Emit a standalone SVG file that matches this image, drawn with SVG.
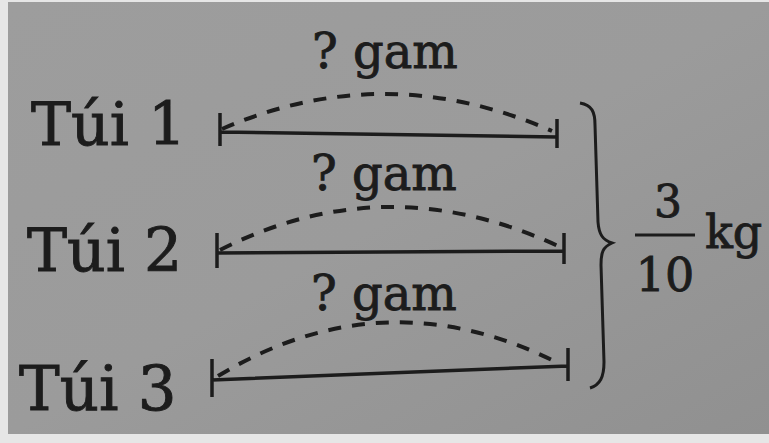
<svg xmlns="http://www.w3.org/2000/svg" width="769" height="443" viewBox="0 0 769 443">
<defs>
<linearGradient id="bg" x1="0" y1="0" x2="1" y2="1">
<stop offset="0" stop-color="#9d9d9d"/>
<stop offset="0.5" stop-color="#9b9b9b"/>
<stop offset="1" stop-color="#909090"/>
</linearGradient>
<style>
.lbl{font-family:"DejaVu Serif","Liberation Serif",serif;fill:#1c1c1c;stroke:#1c1c1c;stroke-width:0.9}
.bag{font-size:60px}
.q{font-size:48px}
.seg{stroke:#1c1c1c;stroke-width:3.5;fill:none}
.dash{stroke:#1c1c1c;stroke-width:4;fill:none;stroke-dasharray:13 11}
</style>
</defs>
<rect x="0" y="0" width="769" height="443" fill="#e6e6e6"/>
<rect x="8" y="2" width="761" height="432" fill="url(#bg)"/>

<g id="bag1">
<text class="lbl bag" x="31" y="145">Túi 1</text>
<text class="lbl q" x="312" y="68">? gam</text>
<path class="seg" d="M220,132 L557,137 M220,113 V146 M557,119 V148"/>
<path class="dash" d="M222,129 Q385,58 552,131"/>
</g>

<g id="bag2">
<text class="lbl bag" x="27" y="271">Túi 2</text>
<text class="lbl q" x="311" y="190">? gam</text>
<path class="seg" d="M217,253 L564,251 M217,233 V268 M564,233 V264"/>
<path class="dash" d="M220,250 Q385,166 558,246"/>
</g>

<g id="bag3">
<text class="lbl bag" x="19" y="410" style="font-size:61px">Túi 3</text>
<text class="lbl q" x="311" y="310">? gam</text>
<path class="seg" d="M212,380 L568,366 M212,359 V397 M568,348 V381"/>
<path class="dash" d="M218,376 Q385,275 560,364"/>
</g>

<g id="connectors">
<path class="seg" style="stroke-width:3" d="M580,103 C592,105 595,112 595,125 L598,222 C599,235 603,240 612,243 C603,247 601,252 601,265 L604,362 C604,377 600,385 590,388"/>
</g>

<g id="total">
<text class="lbl" x="668" y="217" text-anchor="middle" style="font-size:44px">3</text>
<path class="seg" style="stroke-width:3" d="M635,235 H695"/>
<text class="lbl" x="665" y="291" text-anchor="middle" style="font-size:46px">10</text>
<text class="lbl" x="705" y="248" style="font-size:46px">kg</text>
</g>
</svg>
